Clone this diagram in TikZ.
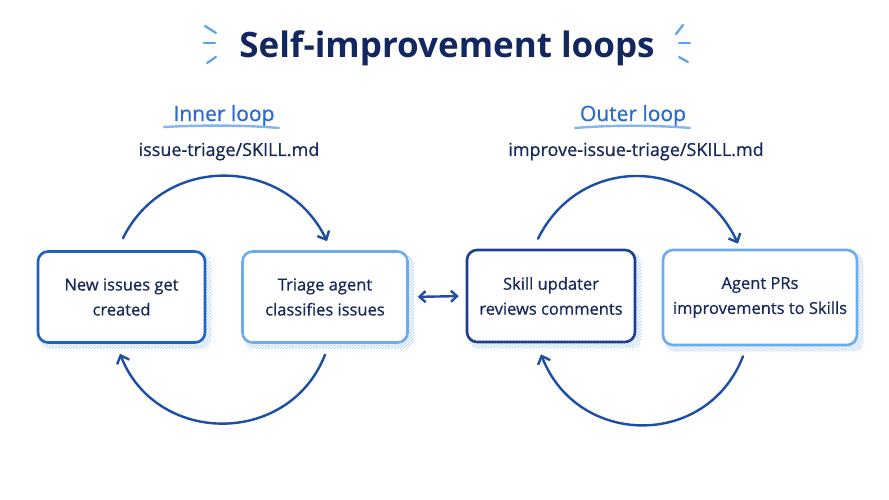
\documentclass[tikz,border=0pt]{standalone}
\usepackage{fontspec}
\setmainfont{Open Sans}
\newfontfamily\medfont{Open Sans}[FakeBold=0.7]
\usetikzlibrary{arrows.meta,patterns,backgrounds,calc}
\definecolor{navy}{HTML}{17285E}
\definecolor{titlec}{HTML}{122660}
\definecolor{arcc}{HTML}{1C4FA3}
\definecolor{boxa}{HTML}{1E62C8}
\definecolor{boxb}{HTML}{1D3F8F}
\definecolor{lightb}{HTML}{6EAAF0}
\definecolor{hatchc}{HTML}{A9CDF6}
\definecolor{loopc}{HTML}{2A6AD4}
\definecolor{ulc}{HTML}{80B6F5}
\definecolor{sparkc}{HTML}{5AA2F0}
\tikzset{
  box/.style={draw, fill=white, line width=2.6pt, rounded corners=10pt, align=center,
    text=navy, font=\medfont\fontsize{16.5}{25}\selectfont, inner sep=0pt},
  boxshadow/.style={pattern=north east lines, pattern color=hatchc, rounded corners=10pt},
  looparc/.style={draw=arcc, line width=2.4pt, line cap=round, -{Straight Barb[length=7pt,width=13pt,line width=2.4pt]}},
  dblarrow/.style={draw=arcc, line width=2.4pt, {Straight Barb[length=6pt,width=11pt]}-{Straight Barb[length=6pt,width=11pt]}},
  looptitle/.style={text=loopc, font=\medfont\fontsize{21}{24}\selectfont, anchor=base},
  pathlabel/.style={text=navy, font=\medfont\fontsize{18}{20}\selectfont, anchor=base},
  uline/.style={draw=ulc, line width=2.4pt, line cap=round},
  spark/.style={draw=sparkc, line width=2.2pt, line cap=round}
}
\begin{document}
\begin{tikzpicture}[x=1pt,y=-1pt]
\useasboundingbox (0,0) rectangle (889,500);
% title
\node[text=titlec, font=\fontsize{35}{40}\selectfont\bfseries, anchor=base] (title) at (447,58) {Self-improvement loops};
\draw[spark] (205,26) -- (216,33);
\draw[spark] (204,43) -- (215,43);
\draw[spark] (207,63) -- (216,57);
\draw[spark] (683,25) -- (676,34);
\draw[spark] (679,43) -- (690,43);
\draw[spark] (679,57) -- (688,62);
% loop titles
\node[looptitle] (inner) at (224,121) {Inner loop};
\node[looptitle] (outer) at (633,121) {Outer loop};
\coordinate (ul1a) at (164,127); \coordinate (ul1b) at (279,128);
\coordinate (ul2a) at (575,128); \coordinate (ul2b) at (690,128);
\draw[uline] (ul1a) .. controls (200,125) and (245,125) .. (ul1b);
\draw[uline] (ul2a) .. controls (610,125) and (655,125) .. (ul2b);
\node[pathlabel] (p1) at (229,156) {issue-triage/SKILL.md};
\node[pathlabel] (p2) at (636,156) {improve-issue-triage/SKILL.md};
% boxes
\node[box, draw=boxa, minimum width=167pt, minimum height=91pt] (b1) at (121.5,297) {New issues get\\created};
\node[box, draw=lightb, minimum width=165pt, minimum height=91pt] (b2) at (325,297) {Triage agent\\classifies issues};
\node[box, draw=boxb, minimum width=168pt, minimum height=92pt] (b3) at (551,296) {Skill updater\\reviews comments};
\node[box, draw=lightb, minimum width=194pt, minimum height=95pt] (b4) at (760,297.5) {Agent PRs\\improvements to Skills};
\begin{pgfonlayer}{background}
\fill[white] (0,0) rectangle (889,500);
\foreach \b in {b1,b2,b3,b4}{
  \path[boxshadow] ($(\b.south west)+(3,5)$) rectangle ($(\b.north east)+(5,4)$);
}
\end{pgfonlayer}
% inner loop arcs
\draw[looparc] ([yshift=12pt,xshift=1.5pt]b1.north) .. controls +(42,-85) and +(-41,-85) .. ([yshift=9pt,xshift=2pt]b2.north);
\draw[looparc] ([yshift=-11pt]b2.south) .. controls +(-36,92) and +(36,92) .. ([yshift=-10pt,xshift=-1.5pt]b1.south);
% outer loop arcs
\draw[looparc] ([yshift=10pt,xshift=-13pt]b3.north) .. controls +(42,-85) and +(-41,-88) .. ([yshift=5pt,xshift=-22pt]b4.north);
\draw[looparc] ([yshift=-10pt,xshift=-17pt]b4.south) .. controls +(-36,93) and +(36,93) .. ([yshift=-11pt,xshift=-10pt]b3.south);
% link between loops
\draw[dblarrow, shorten <=9pt, shorten >=7pt] (b2.east) -- (b3.west);
\end{tikzpicture}
\end{document}
